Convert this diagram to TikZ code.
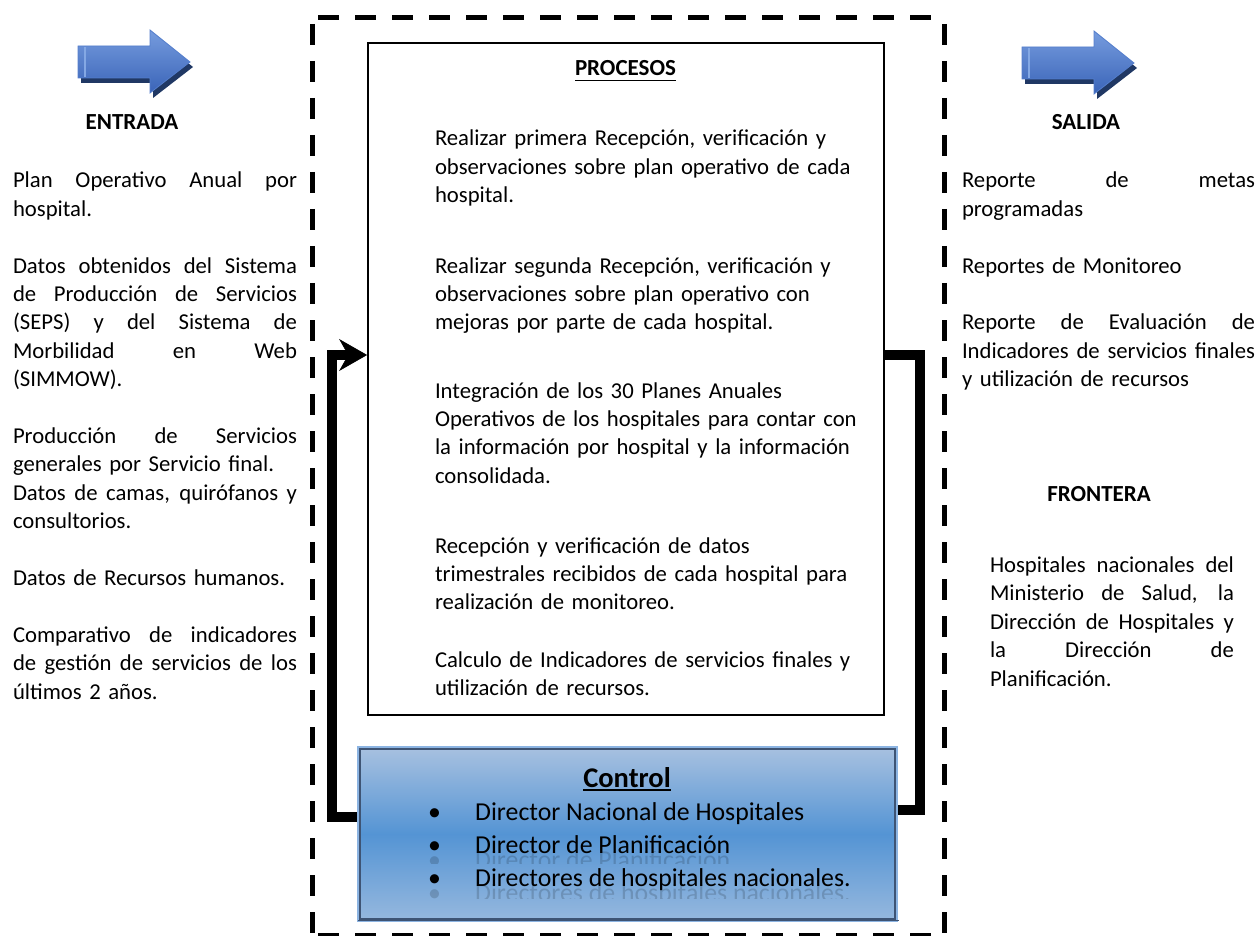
\documentclass[tikz,border=0pt]{standalone}
\usepackage{fontspec}
\setmainfont{Carlito}
\usetikzlibrary{arrows.meta}

% width of the justified text columns
\newdimen\colw
% one fully justified line of a paragraph
\newcommand{\justline}[1]{\hbox to \colw{\spaceskip=0.226em plus 1fil\relax #1}\par}
% underlined text: #1 = depth of the rule below the baseline
\newcommand{\ulined}[2]{\setbox0=\hbox{#2}\rlap{\rule[-#1]{\wd0}{1.6pt}}\box0}

\definecolor{arrowtop}{RGB}{118,156,222}
\definecolor{arrowbot}{RGB}{58,100,184}
\definecolor{arrowedge}{RGB}{84,126,204}
\definecolor{arrowshadow}{RGB}{32,56,100}
\definecolor{arrowlight}{RGB}{132,168,228}
\definecolor{ctop}{RGB}{168,193,224}
\definecolor{cmid}{RGB}{84,148,212}
\definecolor{cbot}{RGB}{150,184,222}
\definecolor{cedge}{RGB}{140,180,226}
\definecolor{cdark}{RGB}{62,84,116}

\pgfdeclarelayer{background}
\pgfsetlayers{background,main}

\tikzset{
  body/.style={font=\fontsize{22.7}{28.4}\selectfont, inner sep=0pt, outer sep=0pt},
  column/.style={body, text width=#1, anchor=base west, execute at begin node={\colw=#1\relax}},
  head/.style={font=\fontsize{23}{28.4}\selectfont\bfseries, inner sep=0pt, anchor=base},
  proctext/.style={body, text width=480pt, align=left, anchor=base west},
  ctltext/.style={font=\fontsize{25.8}{32.7}\selectfont, inner sep=0pt, anchor=base west},
  ghost/.style={ctltext, text=black, opacity=0.16},
  feedback/.style={line width=10pt, line join=miter},
  frame/.style={line width=5pt, dash pattern=on 21pt off 16pt, dash phase=31pt},
  bluearrow/.pic={
    \fill[arrowshadow] (3,21) -- (75,21) -- (75,5) -- (115,37) -- (75,68) -- (75,53) -- (3,53) -- cycle;
    \shadedraw[top color=arrowtop, bottom color=arrowbot, draw=arrowedge, line width=0.8pt]
      (0,16) -- (72,16) -- (72,0) -- (112,32) -- (72,63) -- (72,48) -- (0,48) -- cycle;
    \draw[arrowlight, line width=2pt] (7,17) -- (7,47);
  }
}

\begin{document}
\begin{tikzpicture}[x=1pt,y=-1pt]
\useasboundingbox (0,0) rectangle (1259,936);

% system boundary
\draw[frame] (312,18) -- (944,18);
\draw[frame] (312,18) -- (312,935);
\draw[frame] (944,18) -- (944,935);
\draw[frame] (312,935) -- (944,935);

% input and output arrows
\pic at (78,30) {bluearrow};
\pic at (1022,31) {bluearrow};
\node[head] (entrada) at (132,130) {ENTRADA};
\node[head] (salida) at (1086,130) {SALIDA};
\node[head] (frontera) at (1099,501) {FRONTERA};

% inputs
\node[column=284pt] (entradatxt) at (13,188) {%
\justline{Plan Operativo Anual por}
hospital.\par\vspace{28.4pt}
\justline{Datos obtenidos del Sistema}
\justline{de Producción de Servicios}
\justline{(SEPS) y del Sistema de}
\justline{Morbilidad en Web}
(SIMMOW).\par\vspace{28.4pt}
\justline{Producción de Servicios}
generales por Servicio final.\par
\justline{Datos de camas, quirófanos y}
consultorios.\par\vspace{28.4pt}
Datos de Recursos humanos.\par\vspace{28.4pt}
\justline{Comparativo de indicadores}
\justline{de gestión de servicios de los}
últimos 2 años.};

% outputs
\node[column=293pt] (salidatxt) at (962,188) {%
\justline{Reporte de metas}
programadas\par\vspace{28.4pt}
Reportes de Monitoreo\par\vspace{28.4pt}
\justline{Reporte de Evaluación de}
\justline{Indicadores de servicios finales}
y utilización de recursos};

% boundary description
\node[column=244pt] (fronteratxt) at (990,572.5) {%
\justline{Hospitales nacionales del}
\justline{Ministerio de Salud, la}
\justline{Dirección de Hospitales y}
\justline{la Dirección de}
Planificación.};

% processes
\node[draw, line width=1.8pt, minimum width=516pt, minimum height=672pt, inner sep=0pt] (proc) at (626,379) {};
\node[head] (procesos) at (625.5,76) {\ulined{5.5pt}{PROCESOS}};
\node[proctext] (p1) at (435,146) {Realizar primera Recepción, verificación y\\observaciones sobre plan operativo de cada\\hospital.};
\node[proctext] (p2) at (435,273) {Realizar segunda Recepción, verificación y\\observaciones sobre plan operativo con\\mejoras por parte de cada hospital.};
\node[proctext] (p3) at (435,398) {Integración de los 30 Planes Anuales\\Operativos de los hospitales para contar con\\la información por hospital y la información\\consolidada.};
\node[proctext] (p4) at (435,553) {Recepción y verificación de datos\\trimestrales recibidos de cada hospital para\\realización de monitoreo.};
\node[proctext] (p5) at (435,667) {Calculo de Indicadores de servicios finales y\\utilización de recursos.};

% control
\node[draw=cedge, line width=1.5pt, top color=ctop, bottom color=cbot, middle color=cmid,
      minimum width=539pt, minimum height=174pt, inner sep=0pt] (ctrl) at (627.5,834) {};
\draw[cdark, line width=2pt] ([shift={(3pt,-3pt)}]ctrl.north west) rectangle ([shift={(-3pt,3pt)}]ctrl.south east);
\draw[cdark, line width=1.5pt] ([shift={(1pt,1.5pt)}]ctrl.south west) -- ([shift={(1pt,1.5pt)}]ctrl.south east);
% faint reflections under the last two entries
\begin{scope}
  \clip (400,851) rectangle (880,863);
  \node[ghost] at (428,868) {\makebox[47pt][l]{\textbullet}Director de Planificación};
\end{scope}
\begin{scope}
  \clip (400,884) rectangle (880,898);
  \node[ghost] at (428,901) {\makebox[47pt][l]{\textbullet}Directores de hospitales nacionales.};
\end{scope}
\node[ctltext, font=\fontsize{28.5}{32.7}\selectfont\bfseries, anchor=base] (ctitle) at (627,787) {\ulined{4pt}{Control}};
\node[ctltext] (c1) at (428,820) {\makebox[47pt][l]{\textbullet}Director Nacional de Hospitales};
\node[ctltext] (c2) at (428,853) {\makebox[47pt][l]{\textbullet}Director de Planificación};
\node[ctltext] (c3) at (428,886) {\makebox[47pt][l]{\textbullet}Directores de hospitales nacionales.};

% feedback loop
\begin{pgfonlayer}{background}
\draw[feedback, -{Stealth[length=28pt, width=32pt, inset=9pt, line width=0.5pt]}]
  (ctrl.west |- 0,817) -- (332,817) |- (proc.west |- 0,355);
\draw[feedback] (proc.east |- 0,355) -- (920,355) |- (ctrl.east |- 0,810);
\end{pgfonlayer}
\end{tikzpicture}
\end{document}
